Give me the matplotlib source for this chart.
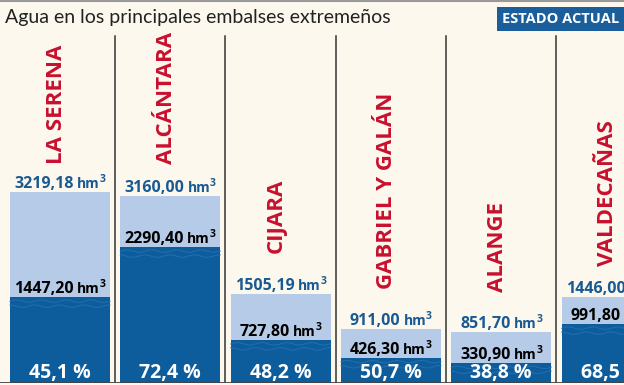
import numpy as np
import matplotlib.pyplot as plt

# data
embalses = ['LA SERENA', 'ALCÁNTARA', 'CIJARA', 'GABRIEL Y GALÁN', 'ALANGE', 'VALDECAÑAS']
capacidad = [3219.18, 3160.00, 1505.19, 911.00, 851.70, 1446.00]
actual = [1447.20, 2290.40, 727.80, 426.30, 330.90, 991.80]
porcentaje = [45.1, 72.4, 48.2, 50.7, 38.8, 68.5]

# gap (pixels) between bar top and the bottom of the rotated name
name_gap = [28, 32, 41, 40, 40, 31]

BG = '#fcf8ee'
LIGHT = '#b6cbe7'
DARK = '#0d5c9c'
WAVE = '#2c74b2'
NAVY = '#1a5a92'
RED = '#c8102e'

FONT = ['Open Sans', 'DejaVu Sans']


def fmt(v, dec=2):
    return f'{v:.{dec}f}'.replace('.', ',')


fig = plt.figure(figsize=(6.24, 3.85), dpi=100, facecolor=BG)
ax = fig.add_axes([0, 2 / 385, 1, 383 / 385])
ax.set_facecolor(BG)
ymax = 6455
ax.set_xlim(-0.544, 5.113)
ax.set_ylim(0, ymax)
ax.axis('off')

x = range(len(embalses))
width = 0.907
ax.bar(x, capacidad, width=width, color=LIGHT, zorder=2)
ax.bar(x, actual, width=width, color=DARK, zorder=3)

# little water ripples just under the surface of each dark bar
px = ymax / 383
for i in x:
    xx = np.linspace(i - width / 2, i + width / 2, 120)
    for k, depth in enumerate([4, 9]):
        yy = actual[i] - depth * px + 1.2 * px * np.sin((xx - i) * 28 + k * 1.7)
        ax.plot(xx, yy, color=WAVE, lw=0.8, alpha=0.7, zorder=4)

# column separators
for i in range(len(embalses) - 1):
    ax.plot([i + 0.5, i + 0.5], [0, ymax * (383 - 36) / 383], color='#333333', lw=1.1, zorder=1)

renderer = fig.canvas.get_renderer()


def value_label(xi, y, num, color, dy):
    kw = dict(textcoords='offset pixels', ha='left', va='baseline', weight='bold',
              color=color, family=FONT, zorder=5)
    t1 = ax.annotate(num, (xi, y), xytext=(0, dy), fontsize=11.5, **kw)
    t2 = ax.annotate('hm', (xi, y), xytext=(0, dy), fontsize=10, **kw)
    t3 = ax.annotate('3', (xi, y), xytext=(0, dy + 6), fontsize=7.5, **kw)
    w1 = t1.get_window_extent(renderer).width
    w2 = t2.get_window_extent(renderer).width
    w3 = t3.get_window_extent(renderer).width
    gap = 3
    start = -(w1 + gap + w2 + w3) / 2
    t1.xyann = (start, dy)
    t2.xyann = (start + w1 + gap, dy)
    t3.xyann = (start + w1 + gap + w2, dy + 6)


for i in x:
    value_label(i, capacidad[i], fmt(capacidad[i]), NAVY, 4)
    value_label(i, actual[i], fmt(actual[i]), 'black', 4)
    ax.annotate(fmt(porcentaje[i], 1) + ' %', (i, 0), xytext=(0, 5), textcoords='offset pixels',
                ha='center', va='baseline', fontsize=14, weight='bold', color='white',
                family=FONT, zorder=5)
    ax.annotate(embalses[i], (i, capacidad[i]), xytext=(-4, name_gap[i]), textcoords='offset pixels',
                ha='center', va='bottom', rotation=90, fontsize=16, weight='bold', color=RED,
                family=FONT, zorder=5)

# bottom and top rules
ax.axhline(0, color='#444444', lw=2, zorder=6)
fig.add_artist(plt.Line2D([0, 1], [0.998, 0.998], color='#999999', lw=1.5))

fig.text(5 / 624, 1 - 18 / 385, 'Agua en los principales embalses extremeños', ha='left', va='center',
         fontsize=14, color='#222222', family=['Lato', 'DejaVu Sans'])
fig.text(561 / 624, 1 - 19 / 385, 'ESTADO ACTUAL', ha='center', va='center', fontsize=10.5,
         weight='bold', color='white', family=FONT,
         bbox=dict(boxstyle='square,pad=0.35', fc='#1a5e9c', ec='none'))

fig.savefig('out.png', dpi=100, facecolor=BG)
